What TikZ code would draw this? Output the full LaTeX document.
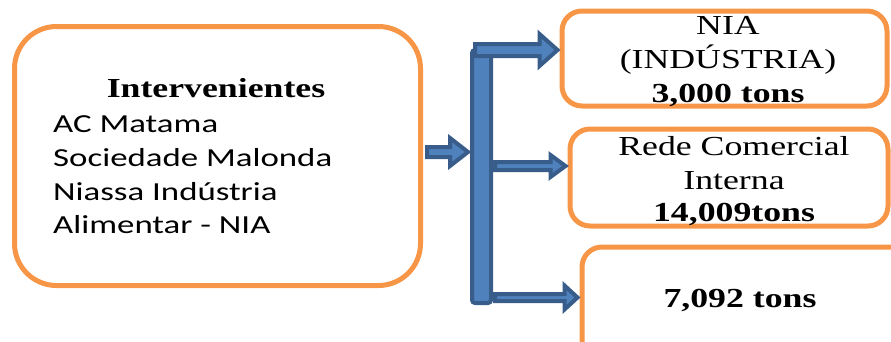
\documentclass[tikz,border=0pt]{standalone}
\usepackage{fontspec}
\usetikzlibrary{calc}
\newfontfamily\srf[FakeStretch=1.3]{Liberation Serif}
\newfontfamily\sns[FakeStretch=1.34]{Carlito}
\definecolor{boxorange}{HTML}{F79646}
\definecolor{arrowfill}{HTML}{4F81BD}
\definecolor{arrowline}{HTML}{385D8A}
\tikzset{
  x=1pt, y=-1pt,
  panel/.style={draw=boxorange, line width=5pt, fill=white, inner sep=0pt},
  bigpanel/.style={panel, rounded corners=42pt},
  smallpanel/.style={panel, rounded corners=20pt},
  blockarrow/.style={draw=arrowline, fill=arrowfill, line width=4pt, line join=miter},
  serifline/.style={anchor=base, inner sep=0pt, font=\srf\fontsize{27.5}{34}\selectfont},
  seriftitle/.style={serifline, font=\srf\bfseries\fontsize{27.5}{34}\selectfont},
  sansline/.style={anchor=base west, inner sep=0pt, font=\sns\fontsize{26}{34}\selectfont},
}
% horizontal block arrow: tail, tip, shaft half width, head half width, head length
\newcommand{\blkarrow}[5]{%
  \draw[blockarrow] let \p1=(#1), \p2=(#2) in
    (\x1,{\y2+#3}) -- ({\x2-#5},{\y2+#3}) -- ({\x2-#5},{\y2+#4}) -- (\x2,\y2)
    -- ({\x2-#5},{\y2-#4}) -- ({\x2-#5},{\y2-#3}) -- (\x1,{\y2-#3}) -- cycle;}
\begin{document}
\begin{tikzpicture}
\useasboundingbox (0,0) rectangle (891,341);
\clip (0,0) rectangle (891,341);

% boxes
\node[bigpanel, minimum width=406pt, minimum height=259pt] (actors) at (217.5,156) {};
\node[smallpanel, minimum width=325pt, minimum height=95pt] (nia) at (724.5,58.5) {};
\node[smallpanel, minimum width=318pt, minimum height=97pt] (rede) at (729,177.5) {};
\node[smallpanel, minimum width=330pt, minimum height=120pt] (rest) at (747,307) {};

% texts of the left box
\node[seriftitle] (title) at (216,97) {Intervenientes};
\node[sansline] (a1) at (53,132) {AC Matama};
\node[sansline] (a2) at (53,166) {Sociedade Malonda};
\node[sansline] (a3) at (53,200) {Niassa Indústria};
\node[sansline] (a4) at (53,233) {Alimentar - NIA};

% texts of the right boxes
\node[serifline] (n1) at (728,34) {NIA};
\node[serifline] (n2) at (728,68) {(INDÚSTRIA)};
\node[seriftitle] (n3) at (728,102) {3,000 tons};
\node[serifline] (r1) at (734,155) {Rede Comercial};
\node[serifline] (r2) at (734,189) {Interna};
\node[seriftitle] (r3) at (734,221) {14,009tons};
\node[seriftitle] (q1) at (740,307) {7,092 tons};

% distribution bar
\node[blockarrow, rounded corners=3pt, minimum width=19pt, minimum height=253pt, inner sep=0pt] (bar) at (481.5,176.5) {};

% arrow levels
\coordinate (l0) at (0,152);
\coordinate (l1) at (0,50);
\coordinate (l2) at (0,166);
\coordinate (l3) at (0,297.5);

\blkarrow{[xshift=4pt]actors.east |- l0}{[xshift=-2pt]bar.west |- l0}{5pt}{14pt}{18pt}
\blkarrow{[xshift=5pt]bar.west |- l1}{[xshift=-2pt]nia.west |- l1}{6pt}{16pt}{18pt}
\blkarrow{[xshift=2pt]bar.east |- l2}{[xshift=-2pt]rede.west |- l2}{4pt}{11pt}{15pt}
\blkarrow{[xshift=2pt]bar.east |- l3}{[xshift=-2pt]rest.west |- l3}{3.5pt}{12pt}{13pt}
\end{tikzpicture}
\end{document}
